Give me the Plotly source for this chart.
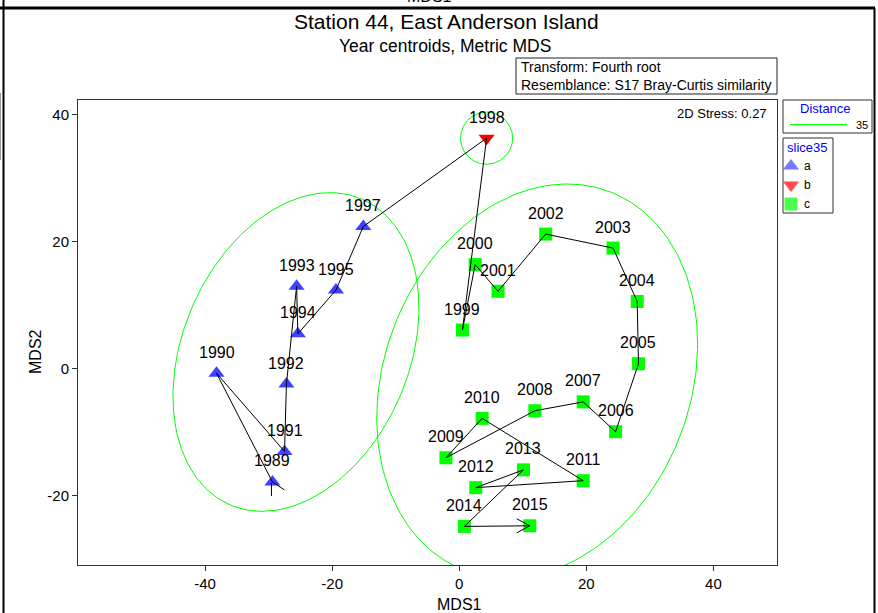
import numpy as np
import plotly.graph_objects as go

# ---- Year centroids (metric MDS coordinates) ----
years = [1989, 1990, 1991, 1992, 1993, 1994, 1995, 1997, 1998, 1999, 2000,
         2001, 2002, 2003, 2004, 2005, 2006, 2007, 2008, 2009, 2010, 2011,
         2012, 2013, 2014, 2015]
mds1 = [-29.4, -38.2, -27.5, -27.2, -25.6, -25.4, -19.4, -15.1, 4.3, 0.5, 2.5,
        6.1, 13.6, 24.2, 28.0, 28.2, 24.6, 19.5, 11.9, -2.1, 3.6, 19.5,
        2.6, 10.1, 0.8, 11.1]
mds2 = [-17.8, -0.7, -13.0, -2.4, 13.0, 5.5, 12.4, 22.4, 36.3, 6.1, 16.4,
        12.2, 21.2, 19.0, 10.6, 0.8, -9.9, -5.2, -6.6, -14.0, -7.8, -17.6,
        -18.7, -15.9, -24.8, -24.7]
slice35 = ["a"] * 8 + ["b"] + ["c"] * 17

x_ticks = [-40, -20, 0, 20, 40]
y_ticks = [-20, 0, 20, 40]

# cluster group styles (slice at distance 35)
group_names = ["a", "b", "c"]
group_symbols = {"a": "triangle-up", "b": "triangle-down", "c": "square"}
group_colors = {"a": "#4040FF", "b": "#FF0000", "c": "#00FF00"}
group_sizes = {"a": 14, "b": 14, "c": 13}

# cluster outlines: centre x, centre y, semi-major, semi-minor, angle (deg)
outline_a = (-25.7, 2.65, 26.2, 17.8, 66.7)
outline_b = (4.3, 36.3, 4.1, 4.1, 0.0)
outline_c = (12.26, -1.92, 31.9, 24.1, 68.9)

W, H = 878, 613
PL, PR, PT, PB = 78, 777, 100, 565   # plot area in pixels
FONT = "Liberation Sans, Arial, sans-serif"
GREEN = "#00FF00"
BLUE = "#0000FF"

fig = go.Figure()

# markers
for g in group_names:
    idx = [i for i, s in enumerate(slice35) if s == g]
    fig.add_trace(go.Scatter(
        x=[mds1[i] for i in idx], y=[mds2[i] for i in idx], mode="markers",
        marker=dict(symbol=group_symbols[g], color=group_colors[g],
                    size=group_sizes[g], line=dict(width=0)),
        hoverinfo="skip", showlegend=False))

# cluster outlines
def outline(params):
    cx, cy, a, b, ang = params
    t = np.linspace(0, 2 * np.pi, 241)
    th = np.deg2rad(ang)
    ex = cx + a * np.cos(t) * np.cos(th) - b * np.sin(t) * np.sin(th)
    ey = cy + a * np.cos(t) * np.sin(th) + b * np.sin(t) * np.cos(th)
    return ex, ey

for p in (outline_a, outline_b, outline_c):
    ex, ey = outline(p)
    fig.add_trace(go.Scatter(x=ex, y=ey, mode="lines",
                             line=dict(color=GREEN, width=1),
                             hoverinfo="skip", showlegend=False))

# trajectory through the years
fig.add_trace(go.Scatter(x=mds1, y=mds2, mode="lines",
                         line=dict(color="black", width=1),
                         hoverinfo="skip", showlegend=False))

# year labels
for yr, xv, yv in zip(years, mds1, mds2):
    fig.add_annotation(x=xv, y=yv, xref="x", yref="y", text=str(yr),
                       showarrow=False, yshift=21,
                       font=dict(family=FONT, size=16, color="black"))

shapes = []
# open arrowhead at the end of the trajectory, tick marks at the start
shapes.append(dict(type="path", xref="x", yref="y", xsizemode="pixel",
                   ysizemode="pixel", xanchor=mds1[-1], yanchor=mds2[-1],
                   path="M-13,7 L0,0 L-13,-7",
                   line=dict(color="black", width=1)))
shapes.append(dict(type="path", xref="x", yref="y", xsizemode="pixel",
                   ysizemode="pixel", xanchor=mds1[0], yanchor=mds2[0],
                   path="M0,0 L12,-8 M-1,-1 L-1,-14",
                   line=dict(color="black", width=1)))

# pixel-space overlay helpers (x2/y2 span the whole figure)
def rect(x0, y0, x1, y1, color="#333", width=1):
    shapes.append(dict(type="rect", xref="x2", yref="y2", x0=x0, y0=y0,
                       x1=x1, y1=y1, line=dict(color=color, width=width),
                       fillcolor="rgba(0,0,0,0)"))

def seg(x0, y0, x1, y1, color="black", width=1):
    shapes.append(dict(type="line", xref="x2", yref="y2", x0=x0, y0=y0,
                       x1=x1, y1=y1, line=dict(color=color, width=width)))

def label(x, y, text, size=13, color="black", xanchor="center", angle=0):
    fig.add_annotation(x=x, y=y, xref="x2", yref="y2", text=text,
                       showarrow=False, xanchor=xanchor, yanchor="middle",
                       textangle=angle,
                       font=dict(family=FONT, size=size, color=color))

# page frame
seg(0, 8, 875, 8, width=3)
seg(3.5, 0, 3.5, H, width=2)
seg(874.5, 8, 874.5, H, width=2)
seg(0.5, 93, 0.5, 160, color="#999999", width=1)
fig.add_annotation(x=429 / W, y=1, xref="paper", yref="paper", text="MDS1",
                   showarrow=False, xanchor="center", yanchor="middle",
                   yshift=4, font=dict(family=FONT, size=16, color="black"))

# titles
label(446, 21, "Station 44, East Anderson Island", size=21)
label(445, 46, "Year centroids, Metric MDS", size=17.5)

# transform / resemblance box
rect(516, 58, 777, 94, color="#222")
label(519, 67, "Transform: Fourth root", size=14, xanchor="left")
label(519, 85, "Resemblance: S17 Bray-Curtis similarity", size=14, xanchor="left")

# stress
label(769, 113, "2D Stress: 0.27", size=13, xanchor="right")

# axis titles
label(459, 604, "MDS1", size=16)
label(35, 352, "MDS2", size=16, angle=-90)

# distance legend
rect(783, 100, 872, 133, color="#333")
label(825, 108, "Distance", size=13, color=BLUE)
seg(790, 124.5, 847, 124.5, color=GREEN, width=1)
label(870, 125, "35", size=11, xanchor="right")

# slice legend
rect(783, 138, 833, 213, color="#333")
label(785, 147, "slice35", size=13, color=BLUE, xanchor="left")
legend_y = [166, 185, 204]
for g, ly in zip(group_names, legend_y):
    label(802, ly, g, size=12, xanchor="left")
fig.add_trace(go.Scatter(
    x=[791] * 3, y=legend_y, mode="markers", xaxis="x2", yaxis="y2",
    marker=dict(symbol=[group_symbols[g] for g in group_names],
                color=[group_colors[g] for g in group_names],
                size=[group_sizes[g] for g in group_names], line=dict(width=0)),
    hoverinfo="skip", showlegend=False))

axis_common = dict(showgrid=False, zeroline=False, showline=True,
                   linecolor="#333", linewidth=1, mirror=True,
                   ticks="outside", ticklen=5, tickcolor="#333",
                   tickfont=dict(family=FONT, size=15, color="black"))

fig.update_layout(
    width=W, height=H,
    margin=dict(l=0, r=0, t=0, b=0, autoexpand=False),
    paper_bgcolor="white", plot_bgcolor="rgba(0,0,0,0)",
    showlegend=False,
    xaxis=dict(domain=[PL / W, PR / W], range=[-60, 50],
               tickvals=x_ticks, ticktext=[str(v) for v in x_ticks],
               **axis_common),
    yaxis=dict(domain=[1 - PB / H, 1 - PT / H], range=[-30.87, 42.3],
               tickvals=y_ticks, ticktext=[str(v) for v in y_ticks],
               **axis_common),
    xaxis2=dict(domain=[0, 1], range=[0, W], visible=False, anchor="y2"),
    yaxis2=dict(domain=[0, 1], range=[H, 0], visible=False, anchor="x2"),
    shapes=shapes,
)

fig.write_html("out.html")
